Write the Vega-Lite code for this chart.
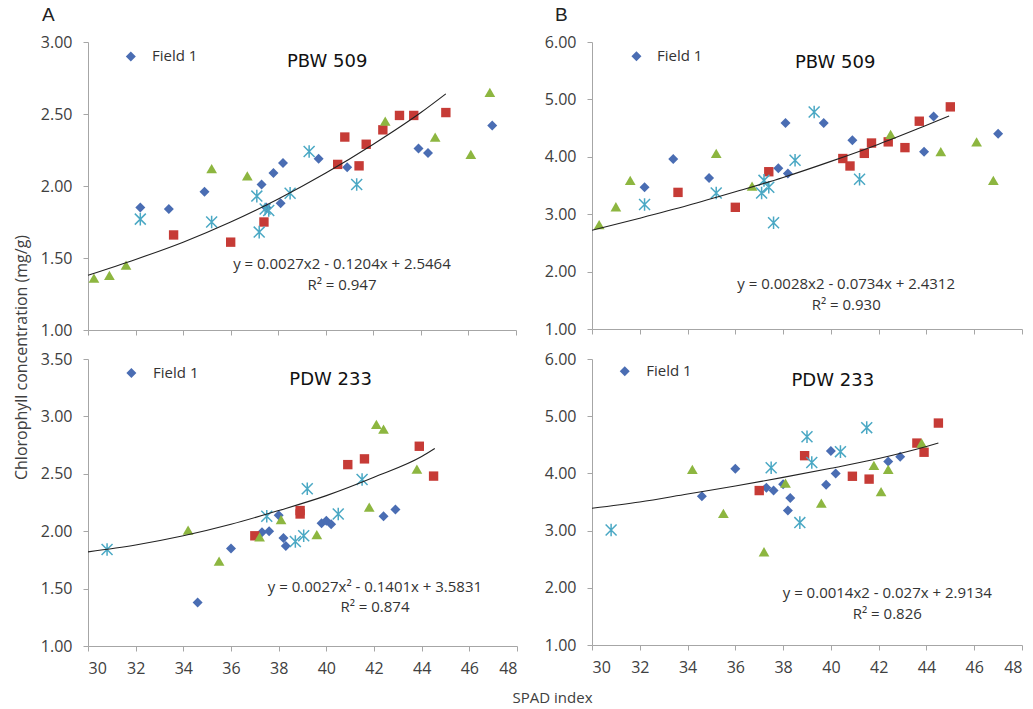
{
  "$schema": "https://vega.github.io/schema/vega-lite/v6.json",
  "background": "white",
  "padding": {"left": 13, "top": 6, "right": 3, "bottom": 4},
  "datasets": {
    "pts": [
      {"p": "A1", "s": "Field 1", "x": 32.2, "y": 1.85},
      {"p": "A1", "s": "Field 1", "x": 33.4, "y": 1.84},
      {"p": "A1", "s": "Field 1", "x": 34.9, "y": 1.96},
      {"p": "A1", "s": "Field 1", "x": 37.3, "y": 2.01},
      {"p": "A1", "s": "Field 1", "x": 37.5, "y": 1.85},
      {"p": "A1", "s": "Field 1", "x": 37.8, "y": 2.09},
      {"p": "A1", "s": "Field 1", "x": 38.2, "y": 2.16},
      {"p": "A1", "s": "Field 1", "x": 38.1, "y": 1.88},
      {"p": "A1", "s": "Field 1", "x": 39.7, "y": 2.19},
      {"p": "A1", "s": "Field 1", "x": 40.9, "y": 2.13},
      {"p": "A1", "s": "Field 1", "x": 43.9, "y": 2.26},
      {"p": "A1", "s": "Field 1", "x": 44.3, "y": 2.23},
      {"p": "A1", "s": "Field 1", "x": 47.0, "y": 2.42},
      {"p": "A1", "s": "Field 2", "x": 33.6, "y": 1.66},
      {"p": "A1", "s": "Field 2", "x": 36.0, "y": 1.61},
      {"p": "A1", "s": "Field 2", "x": 37.4, "y": 1.75},
      {"p": "A1", "s": "Field 2", "x": 40.5, "y": 2.15},
      {"p": "A1", "s": "Field 2", "x": 40.8, "y": 2.34},
      {"p": "A1", "s": "Field 2", "x": 41.4, "y": 2.14},
      {"p": "A1", "s": "Field 2", "x": 41.7, "y": 2.29},
      {"p": "A1", "s": "Field 2", "x": 42.4, "y": 2.39},
      {"p": "A1", "s": "Field 2", "x": 43.1, "y": 2.49},
      {"p": "A1", "s": "Field 2", "x": 43.7, "y": 2.49},
      {"p": "A1", "s": "Field 2", "x": 45.05, "y": 2.51},
      {"p": "A1", "s": "Field 3", "x": 30.25, "y": 1.36},
      {"p": "A1", "s": "Field 3", "x": 30.9, "y": 1.38},
      {"p": "A1", "s": "Field 3", "x": 31.6, "y": 1.45},
      {"p": "A1", "s": "Field 3", "x": 35.2, "y": 2.12},
      {"p": "A1", "s": "Field 3", "x": 36.7, "y": 2.07},
      {"p": "A1", "s": "Field 3", "x": 42.5, "y": 2.45},
      {"p": "A1", "s": "Field 3", "x": 44.6, "y": 2.34},
      {"p": "A1", "s": "Field 3", "x": 46.1, "y": 2.22},
      {"p": "A1", "s": "Field 3", "x": 46.9, "y": 2.65},
      {"p": "A1", "s": "Field 4", "x": 32.2, "y": 1.77},
      {"p": "A1", "s": "Field 4", "x": 35.2, "y": 1.75},
      {"p": "A1", "s": "Field 4", "x": 37.1, "y": 1.93},
      {"p": "A1", "s": "Field 4", "x": 37.2, "y": 1.68},
      {"p": "A1", "s": "Field 4", "x": 37.45, "y": 1.84},
      {"p": "A1", "s": "Field 4", "x": 37.6, "y": 1.83},
      {"p": "A1", "s": "Field 4", "x": 38.5, "y": 1.95},
      {"p": "A1", "s": "Field 4", "x": 39.3, "y": 2.24},
      {"p": "A1", "s": "Field 4", "x": 41.3, "y": 2.01},

      {"p": "B1", "s": "Field 1", "x": 32.2, "y": 3.47},
      {"p": "B1", "s": "Field 1", "x": 33.4, "y": 3.96},
      {"p": "B1", "s": "Field 1", "x": 34.9, "y": 3.63},
      {"p": "B1", "s": "Field 1", "x": 37.8, "y": 3.80},
      {"p": "B1", "s": "Field 1", "x": 38.2, "y": 3.71},
      {"p": "B1", "s": "Field 1", "x": 38.1, "y": 4.59},
      {"p": "B1", "s": "Field 1", "x": 39.7, "y": 4.59},
      {"p": "B1", "s": "Field 1", "x": 40.9, "y": 4.29},
      {"p": "B1", "s": "Field 1", "x": 43.9, "y": 4.09},
      {"p": "B1", "s": "Field 1", "x": 44.3, "y": 4.70},
      {"p": "B1", "s": "Field 1", "x": 47.0, "y": 4.40},
      {"p": "B1", "s": "Field 2", "x": 33.6, "y": 3.38},
      {"p": "B1", "s": "Field 2", "x": 36.0, "y": 3.12},
      {"p": "B1", "s": "Field 2", "x": 37.4, "y": 3.74},
      {"p": "B1", "s": "Field 2", "x": 40.5, "y": 3.97},
      {"p": "B1", "s": "Field 2", "x": 40.8, "y": 3.84},
      {"p": "B1", "s": "Field 2", "x": 41.4, "y": 4.06},
      {"p": "B1", "s": "Field 2", "x": 41.7, "y": 4.24},
      {"p": "B1", "s": "Field 2", "x": 42.4, "y": 4.26},
      {"p": "B1", "s": "Field 2", "x": 43.1, "y": 4.16},
      {"p": "B1", "s": "Field 2", "x": 43.7, "y": 4.62},
      {"p": "B1", "s": "Field 2", "x": 45.0, "y": 4.87},
      {"p": "B1", "s": "Field 3", "x": 30.3, "y": 2.82},
      {"p": "B1", "s": "Field 3", "x": 31.0, "y": 3.13},
      {"p": "B1", "s": "Field 3", "x": 31.6, "y": 3.59},
      {"p": "B1", "s": "Field 3", "x": 35.2, "y": 4.06},
      {"p": "B1", "s": "Field 3", "x": 36.7, "y": 3.49},
      {"p": "B1", "s": "Field 3", "x": 42.5, "y": 4.39},
      {"p": "B1", "s": "Field 3", "x": 44.6, "y": 4.09},
      {"p": "B1", "s": "Field 3", "x": 46.1, "y": 4.26},
      {"p": "B1", "s": "Field 3", "x": 46.8, "y": 3.59},
      {"p": "B1", "s": "Field 4", "x": 32.2, "y": 3.17},
      {"p": "B1", "s": "Field 4", "x": 35.2, "y": 3.37},
      {"p": "B1", "s": "Field 4", "x": 37.1, "y": 3.37},
      {"p": "B1", "s": "Field 4", "x": 37.2, "y": 3.59},
      {"p": "B1", "s": "Field 4", "x": 37.4, "y": 3.47},
      {"p": "B1", "s": "Field 4", "x": 37.6, "y": 2.85},
      {"p": "B1", "s": "Field 4", "x": 38.5, "y": 3.94},
      {"p": "B1", "s": "Field 4", "x": 39.3, "y": 4.78},
      {"p": "B1", "s": "Field 4", "x": 41.2, "y": 3.61},

      {"p": "A2", "s": "Field 1", "x": 34.6, "y": 1.38},
      {"p": "A2", "s": "Field 1", "x": 36.0, "y": 1.85},
      {"p": "A2", "s": "Field 1", "x": 37.3, "y": 1.99},
      {"p": "A2", "s": "Field 1", "x": 37.6, "y": 2.00},
      {"p": "A2", "s": "Field 1", "x": 38.0, "y": 2.14},
      {"p": "A2", "s": "Field 1", "x": 38.2, "y": 1.94},
      {"p": "A2", "s": "Field 1", "x": 38.3, "y": 1.87},
      {"p": "A2", "s": "Field 1", "x": 39.8, "y": 2.07},
      {"p": "A2", "s": "Field 1", "x": 40.0, "y": 2.09},
      {"p": "A2", "s": "Field 1", "x": 40.2, "y": 2.06},
      {"p": "A2", "s": "Field 1", "x": 42.4, "y": 2.13},
      {"p": "A2", "s": "Field 1", "x": 42.9, "y": 2.19},
      {"p": "A2", "s": "Field 2", "x": 37.0, "y": 1.96},
      {"p": "A2", "s": "Field 2", "x": 38.9, "y": 2.15},
      {"p": "A2", "s": "Field 2", "x": 38.9, "y": 2.18},
      {"p": "A2", "s": "Field 2", "x": 40.9, "y": 2.58},
      {"p": "A2", "s": "Field 2", "x": 41.6, "y": 2.63},
      {"p": "A2", "s": "Field 2", "x": 43.9, "y": 2.74},
      {"p": "A2", "s": "Field 2", "x": 44.5, "y": 2.48},
      {"p": "A2", "s": "Field 3", "x": 34.2, "y": 2.01},
      {"p": "A2", "s": "Field 3", "x": 35.5, "y": 1.74},
      {"p": "A2", "s": "Field 3", "x": 37.2, "y": 1.95},
      {"p": "A2", "s": "Field 3", "x": 38.1, "y": 2.10},
      {"p": "A2", "s": "Field 3", "x": 39.6, "y": 1.97},
      {"p": "A2", "s": "Field 3", "x": 41.8, "y": 2.21},
      {"p": "A2", "s": "Field 3", "x": 42.1, "y": 2.93},
      {"p": "A2", "s": "Field 3", "x": 42.4, "y": 2.89},
      {"p": "A2", "s": "Field 3", "x": 43.8, "y": 2.54},
      {"p": "A2", "s": "Field 4", "x": 30.8, "y": 1.84},
      {"p": "A2", "s": "Field 4", "x": 37.5, "y": 2.13},
      {"p": "A2", "s": "Field 4", "x": 38.7, "y": 1.91},
      {"p": "A2", "s": "Field 4", "x": 39.05, "y": 1.96},
      {"p": "A2", "s": "Field 4", "x": 39.2, "y": 2.37},
      {"p": "A2", "s": "Field 4", "x": 40.5, "y": 2.15},
      {"p": "A2", "s": "Field 4", "x": 41.5, "y": 2.45},

      {"p": "B2", "s": "Field 1", "x": 34.6, "y": 3.60},
      {"p": "B2", "s": "Field 1", "x": 36.0, "y": 4.08},
      {"p": "B2", "s": "Field 1", "x": 37.3, "y": 3.75},
      {"p": "B2", "s": "Field 1", "x": 37.6, "y": 3.70},
      {"p": "B2", "s": "Field 1", "x": 38.0, "y": 3.81},
      {"p": "B2", "s": "Field 1", "x": 38.3, "y": 3.57},
      {"p": "B2", "s": "Field 1", "x": 38.2, "y": 3.35},
      {"p": "B2", "s": "Field 1", "x": 39.8, "y": 3.80},
      {"p": "B2", "s": "Field 1", "x": 40.0, "y": 4.39},
      {"p": "B2", "s": "Field 1", "x": 40.2, "y": 4.00},
      {"p": "B2", "s": "Field 1", "x": 42.4, "y": 4.21},
      {"p": "B2", "s": "Field 1", "x": 42.9, "y": 4.29},
      {"p": "B2", "s": "Field 2", "x": 37.0, "y": 3.70},
      {"p": "B2", "s": "Field 2", "x": 38.9, "y": 4.31},
      {"p": "B2", "s": "Field 2", "x": 40.9, "y": 3.95},
      {"p": "B2", "s": "Field 2", "x": 41.6, "y": 3.90},
      {"p": "B2", "s": "Field 2", "x": 43.6, "y": 4.53},
      {"p": "B2", "s": "Field 2", "x": 43.9, "y": 4.37},
      {"p": "B2", "s": "Field 2", "x": 44.5, "y": 4.88},
      {"p": "B2", "s": "Field 3", "x": 34.2, "y": 4.07},
      {"p": "B2", "s": "Field 3", "x": 35.5, "y": 3.30},
      {"p": "B2", "s": "Field 3", "x": 37.2, "y": 2.63},
      {"p": "B2", "s": "Field 3", "x": 38.1, "y": 3.83},
      {"p": "B2", "s": "Field 3", "x": 39.6, "y": 3.48},
      {"p": "B2", "s": "Field 3", "x": 41.8, "y": 4.14},
      {"p": "B2", "s": "Field 3", "x": 42.1, "y": 3.68},
      {"p": "B2", "s": "Field 3", "x": 42.4, "y": 4.07},
      {"p": "B2", "s": "Field 3", "x": 43.8, "y": 4.53},
      {"p": "B2", "s": "Field 4", "x": 30.8, "y": 3.01},
      {"p": "B2", "s": "Field 4", "x": 37.5, "y": 4.10},
      {"p": "B2", "s": "Field 4", "x": 38.7, "y": 3.14},
      {"p": "B2", "s": "Field 4", "x": 39.0, "y": 4.64},
      {"p": "B2", "s": "Field 4", "x": 39.2, "y": 4.19},
      {"p": "B2", "s": "Field 4", "x": 40.4, "y": 4.38},
      {"p": "B2", "s": "Field 4", "x": 41.5, "y": 4.80}
    ],
    "fit": [
      {"p": "A1", "x": 30, "y": 1.38}, {"p": "A1", "x": 32, "y": 1.49}, {"p": "A1", "x": 34, "y": 1.61},
      {"p": "A1", "x": 36, "y": 1.75}, {"p": "A1", "x": 38, "y": 1.91}, {"p": "A1", "x": 40, "y": 2.09},
      {"p": "A1", "x": 42, "y": 2.29}, {"p": "A1", "x": 44, "y": 2.51}, {"p": "A1", "x": 45.05, "y": 2.64},
      {"p": "B1", "x": 30, "y": 2.72}, {"p": "B1", "x": 32, "y": 2.93}, {"p": "B1", "x": 34, "y": 3.15},
      {"p": "B1", "x": 36, "y": 3.39}, {"p": "B1", "x": 38, "y": 3.64}, {"p": "B1", "x": 40, "y": 3.92},
      {"p": "B1", "x": 42, "y": 4.22}, {"p": "B1", "x": 44, "y": 4.55}, {"p": "B1", "x": 44.95, "y": 4.71},
      {"p": "A2", "x": 30, "y": 1.82}, {"p": "A2", "x": 32, "y": 1.88}, {"p": "A2", "x": 34, "y": 1.96},
      {"p": "A2", "x": 36, "y": 2.06}, {"p": "A2", "x": 38, "y": 2.18}, {"p": "A2", "x": 40, "y": 2.31},
      {"p": "A2", "x": 42, "y": 2.47}, {"p": "A2", "x": 44, "y": 2.65}, {"p": "A2", "x": 44.55, "y": 2.72},
      {"p": "B2", "x": 30, "y": 3.39}, {"p": "B2", "x": 32, "y": 3.50}, {"p": "B2", "x": 34, "y": 3.64},
      {"p": "B2", "x": 36, "y": 3.78}, {"p": "B2", "x": 38, "y": 3.93}, {"p": "B2", "x": 40, "y": 4.09},
      {"p": "B2", "x": 42, "y": 4.26}, {"p": "B2", "x": 44, "y": 4.47}, {"p": "B2", "x": 44.5, "y": 4.53}
    ]
  },
  "columns": 2,
  "spacing": {"row": 29, "column": 75},
  "bounds": "flush",
  "concat": [
        {
          "width": 428, "height": 288,
          "title": {"text": "A", "anchor": "start", "frame": "group", "dx": -46, "offset": -6, "baseline": "alphabetic"},
          "layer": [
            {
              "data": {"name": "pts"},
              "transform": [{"filter": "datum.p === 'A1' && datum.s === 'Field 1'"}],
              "mark": {"type": "point", "filled": true, "opacity": 1, "shape": "diamond", "size": 100, "color": "#4A6DB3"},
              "encoding": {
                "x": {"field": "x", "type": "quantitative", "scale": {"domain": [30, 48], "nice": false, "zero": false},
                      "axis": {"values": [30, 32, 34, 36, 38, 40, 42, 44, 46, 48], "labels": false, "title": null}},
                "y": {"field": "y", "type": "quantitative", "scale": {"domain": [1, 3], "nice": false, "zero": false},
                      "axis": {"values": [1, 1.5, 2, 2.5, 3], "format": ".2f", "title": "Chlorophyll concentration (mg/g)",
                               "titleX": -67, "titleY": 315, "titleAngle": 270, "titleAlign": "center", "titleBaseline": "middle", "titleFontSize": 16}}
              }
            },
            {
              "data": {"name": "pts"},
              "transform": [{"filter": "datum.p === 'A1' && datum.s === 'Field 2'"}],
              "mark": {"type": "point", "filled": true, "opacity": 1, "shape": "square", "size": 88, "color": "#C63B36"},
              "encoding": {"x": {"field": "x", "type": "quantitative"}, "y": {"field": "y", "type": "quantitative"}}
            },
            {
              "data": {"name": "pts"},
              "transform": [{"filter": "datum.p === 'A1' && datum.s === 'Field 3'"}],
              "mark": {"type": "point", "filled": true, "opacity": 1, "shape": "triangle-up", "size": 115, "color": "#8DB640"},
              "encoding": {"x": {"field": "x", "type": "quantitative"}, "y": {"field": "y", "type": "quantitative"}}
            },
            {
              "data": {"name": "pts"},
              "transform": [{"filter": "datum.p === 'A1' && datum.s === 'Field 4'"}],
              "mark": {"type": "point", "filled": false, "shape": "M-1,-1L1,1M-1,1L1,-1M0,-1.15L0,1.15", "size": 120, "strokeWidth": 1.5, "color": "#4AA8C4", "opacity": 1},
              "encoding": {"x": {"field": "x", "type": "quantitative"}, "y": {"field": "y", "type": "quantitative"}}
            },
            {
              "data": {"name": "fit"},
              "transform": [{"filter": "datum.p === 'A1'"}],
              "mark": {"type": "line", "color": "#222", "strokeWidth": 1.1, "interpolate": "monotone"},
              "encoding": {"x": {"field": "x", "type": "quantitative"}, "y": {"field": "y", "type": "quantitative"}}
            },
            {
              "data": {"values": [{}]},
              "mark": {"type": "text", "font": "DejaVu Sans", "fontSize": 18, "color": "#111", "align": "center", "baseline": "middle"},
              "encoding": {"x": {"datum": 40.06, "type": "quantitative"}, "y": {"datum": 2.86, "type": "quantitative"}, "text": {"value": "PBW 509"}}
            },
            {
              "data": {"values": [{}]},
              "mark": {"type": "text", "font": "Open Sans", "fontSize": 15, "color": "#333", "align": "center", "baseline": "middle"},
              "encoding": {"x": {"datum": 40.68, "type": "quantitative"}, "y": {"datum": 1.458, "type": "quantitative"}, "text": {"value": "y = 0.0027x2 - 0.1204x + 2.5464"}}
            },
            {
              "data": {"values": [{}]},
              "mark": {"type": "text", "font": "Open Sans", "fontSize": 15, "color": "#333", "align": "center", "baseline": "middle"},
              "encoding": {"x": {"datum": 40.68, "type": "quantitative"}, "y": {"datum": 1.3125, "type": "quantitative"}, "text": {"value": "R² = 0.947"}}
            },
            {
              "data": {"values": [{}]},
              "mark": {"type": "point", "filled": true, "shape": "diamond", "size": 100, "color": "#4A6DB3", "opacity": 1},
              "encoding": {"x": {"datum": 31.8, "type": "quantitative"}, "y": {"datum": 2.9, "type": "quantitative"}}
            },
            {
              "data": {"values": [{}]},
              "mark": {"type": "text", "font": "Open Sans", "fontSize": 15, "color": "#333", "align": "left", "baseline": "middle"},
              "encoding": {"x": {"datum": 32.69, "type": "quantitative"}, "y": {"datum": 2.9, "type": "quantitative"}, "text": {"value": "Field 1"}}
            }
          ]
        },
        {
          "width": 430, "height": 287,
          "title": {"text": "B", "anchor": "start", "frame": "group", "dx": -37, "offset": -6, "baseline": "alphabetic"},
          "layer": [
            {
              "data": {"name": "pts"},
              "transform": [{"filter": "datum.p === 'B1' && datum.s === 'Field 1'"}],
              "mark": {"type": "point", "filled": true, "opacity": 1, "shape": "diamond", "size": 100, "color": "#4A6DB3"},
              "encoding": {
                "x": {"field": "x", "type": "quantitative", "scale": {"domain": [30, 48], "nice": false, "zero": false},
                      "axis": {"values": [30, 32, 34, 36, 38, 40, 42, 44, 46, 48], "labels": false, "title": null}},
                "y": {"field": "y", "type": "quantitative", "scale": {"domain": [1, 6], "nice": false, "zero": false},
                      "axis": {"values": [1, 2, 3, 4, 5, 6], "format": ".2f", "title": null}}
              }
            },
            {
              "data": {"name": "pts"},
              "transform": [{"filter": "datum.p === 'B1' && datum.s === 'Field 2'"}],
              "mark": {"type": "point", "filled": true, "opacity": 1, "shape": "square", "size": 88, "color": "#C63B36"},
              "encoding": {"x": {"field": "x", "type": "quantitative"}, "y": {"field": "y", "type": "quantitative"}}
            },
            {
              "data": {"name": "pts"},
              "transform": [{"filter": "datum.p === 'B1' && datum.s === 'Field 3'"}],
              "mark": {"type": "point", "filled": true, "opacity": 1, "shape": "triangle-up", "size": 115, "color": "#8DB640"},
              "encoding": {"x": {"field": "x", "type": "quantitative"}, "y": {"field": "y", "type": "quantitative"}}
            },
            {
              "data": {"name": "pts"},
              "transform": [{"filter": "datum.p === 'B1' && datum.s === 'Field 4'"}],
              "mark": {"type": "point", "filled": false, "shape": "M-1,-1L1,1M-1,1L1,-1M0,-1.15L0,1.15", "size": 120, "strokeWidth": 1.5, "color": "#4AA8C4", "opacity": 1},
              "encoding": {"x": {"field": "x", "type": "quantitative"}, "y": {"field": "y", "type": "quantitative"}}
            },
            {
              "data": {"name": "fit"},
              "transform": [{"filter": "datum.p === 'B1'"}],
              "mark": {"type": "line", "color": "#222", "strokeWidth": 1.1, "interpolate": "monotone"},
              "encoding": {"x": {"field": "x", "type": "quantitative"}, "y": {"field": "y", "type": "quantitative"}}
            },
            {
              "data": {"values": [{}]},
              "mark": {"type": "text", "font": "DejaVu Sans", "fontSize": 18, "color": "#111", "align": "center", "baseline": "middle"},
              "encoding": {"x": {"datum": 40.18, "type": "quantitative"}, "y": {"datum": 5.64, "type": "quantitative"}, "text": {"value": "PBW 509"}}
            },
            {
              "data": {"values": [{}]},
              "mark": {"type": "text", "font": "Open Sans", "fontSize": 15, "color": "#333", "align": "center", "baseline": "middle"},
              "encoding": {"x": {"datum": 40.64, "type": "quantitative"}, "y": {"datum": 1.79, "type": "quantitative"}, "text": {"value": "y = 0.0028x2 - 0.0734x + 2.4312"}}
            },
            {
              "data": {"values": [{}]},
              "mark": {"type": "text", "font": "Open Sans", "fontSize": 15, "color": "#333", "align": "center", "baseline": "middle"},
              "encoding": {"x": {"datum": 40.64, "type": "quantitative"}, "y": {"datum": 1.42, "type": "quantitative"}, "text": {"value": "R² = 0.930"}}
            },
            {
              "data": {"values": [{}]},
              "mark": {"type": "point", "filled": true, "shape": "diamond", "size": 100, "color": "#4A6DB3", "opacity": 1},
              "encoding": {"x": {"datum": 31.86, "type": "quantitative"}, "y": {"datum": 5.75, "type": "quantitative"}}
            },
            {
              "data": {"values": [{}]},
              "mark": {"type": "text", "font": "Open Sans", "fontSize": 15, "color": "#333", "align": "left", "baseline": "middle"},
              "encoding": {"x": {"datum": 32.72, "type": "quantitative"}, "y": {"datum": 5.75, "type": "quantitative"}, "text": {"value": "Field 1"}}
            }
          ]
        },
        {
          "width": 429, "height": 287,
          "layer": [
            {
              "data": {"name": "pts"},
              "transform": [{"filter": "datum.p === 'A2' && datum.s === 'Field 1'"}],
              "mark": {"type": "point", "filled": true, "opacity": 1, "shape": "diamond", "size": 100, "color": "#4A6DB3"},
              "encoding": {
                "x": {"field": "x", "type": "quantitative", "scale": {"domain": [30, 48], "nice": false, "zero": false},
                      "axis": {"values": [30, 32, 34, 36, 38, 40, 42, 44, 46, 48], "format": "d", "title": "SPAD index",
                               "titleX": 464, "titleY": 56, "titleAlign": "center", "titleBaseline": "alphabetic"}},
                "y": {"field": "y", "type": "quantitative", "scale": {"domain": [1, 3.5], "nice": false, "zero": false},
                      "axis": {"values": [1, 1.5, 2, 2.5, 3, 3.5], "format": ".2f", "title": null}}
              }
            },
            {
              "data": {"name": "pts"},
              "transform": [{"filter": "datum.p === 'A2' && datum.s === 'Field 2'"}],
              "mark": {"type": "point", "filled": true, "opacity": 1, "shape": "square", "size": 88, "color": "#C63B36"},
              "encoding": {"x": {"field": "x", "type": "quantitative"}, "y": {"field": "y", "type": "quantitative"}}
            },
            {
              "data": {"name": "pts"},
              "transform": [{"filter": "datum.p === 'A2' && datum.s === 'Field 3'"}],
              "mark": {"type": "point", "filled": true, "opacity": 1, "shape": "triangle-up", "size": 115, "color": "#8DB640"},
              "encoding": {"x": {"field": "x", "type": "quantitative"}, "y": {"field": "y", "type": "quantitative"}}
            },
            {
              "data": {"name": "pts"},
              "transform": [{"filter": "datum.p === 'A2' && datum.s === 'Field 4'"}],
              "mark": {"type": "point", "filled": false, "shape": "M-1,-1L1,1M-1,1L1,-1M0,-1.15L0,1.15", "size": 120, "strokeWidth": 1.5, "color": "#4AA8C4", "opacity": 1},
              "encoding": {"x": {"field": "x", "type": "quantitative"}, "y": {"field": "y", "type": "quantitative"}}
            },
            {
              "data": {"name": "fit"},
              "transform": [{"filter": "datum.p === 'A2'"}],
              "mark": {"type": "line", "color": "#222", "strokeWidth": 1.1, "interpolate": "monotone"},
              "encoding": {"x": {"field": "x", "type": "quantitative"}, "y": {"field": "y", "type": "quantitative"}}
            },
            {
              "data": {"values": [{}]},
              "mark": {"type": "text", "font": "DejaVu Sans", "fontSize": 18, "color": "#111", "align": "center", "baseline": "middle"},
              "encoding": {"x": {"datum": 40.18, "type": "quantitative"}, "y": {"datum": 3.32, "type": "quantitative"}, "text": {"value": "PDW 233"}}
            },
            {
              "data": {"values": [{}]},
              "mark": {"type": "text", "font": "Open Sans", "fontSize": 15, "color": "#333", "align": "center", "baseline": "middle"},
              "encoding": {"x": {"datum": 42.04, "type": "quantitative"}, "y": {"datum": 1.518, "type": "quantitative"}, "text": {"value": "y = 0.0027x² - 0.1401x + 3.5831"}}
            },
            {
              "data": {"values": [{}]},
              "mark": {"type": "text", "font": "Open Sans", "fontSize": 15, "color": "#333", "align": "center", "baseline": "middle"},
              "encoding": {"x": {"datum": 42.04, "type": "quantitative"}, "y": {"datum": 1.338, "type": "quantitative"}, "text": {"value": "R² = 0.874"}}
            },
            {
              "data": {"values": [{}]},
              "mark": {"type": "point", "filled": true, "shape": "diamond", "size": 100, "color": "#4A6DB3", "opacity": 1},
              "encoding": {"x": {"datum": 31.82, "type": "quantitative"}, "y": {"datum": 3.378, "type": "quantitative"}}
            },
            {
              "data": {"values": [{}]},
              "mark": {"type": "text", "font": "Open Sans", "fontSize": 15, "color": "#333", "align": "left", "baseline": "middle"},
              "encoding": {"x": {"datum": 32.73, "type": "quantitative"}, "y": {"datum": 3.378, "type": "quantitative"}, "text": {"value": "Field 1"}}
            }
          ]
        },
        {
          "width": 430, "height": 286,
          "layer": [
            {
              "data": {"name": "pts"},
              "transform": [{"filter": "datum.p === 'B2' && datum.s === 'Field 1'"}],
              "mark": {"type": "point", "filled": true, "opacity": 1, "shape": "diamond", "size": 100, "color": "#4A6DB3"},
              "encoding": {
                "x": {"field": "x", "type": "quantitative", "scale": {"domain": [30, 48], "nice": false, "zero": false},
                      "axis": {"values": [30, 32, 34, 36, 38, 40, 42, 44, 46, 48], "format": "d", "title": null}},
                "y": {"field": "y", "type": "quantitative", "scale": {"domain": [1, 6], "nice": false, "zero": false},
                      "axis": {"values": [1, 2, 3, 4, 5, 6], "format": ".2f", "title": null}}
              }
            },
            {
              "data": {"name": "pts"},
              "transform": [{"filter": "datum.p === 'B2' && datum.s === 'Field 2'"}],
              "mark": {"type": "point", "filled": true, "opacity": 1, "shape": "square", "size": 88, "color": "#C63B36"},
              "encoding": {"x": {"field": "x", "type": "quantitative"}, "y": {"field": "y", "type": "quantitative"}}
            },
            {
              "data": {"name": "pts"},
              "transform": [{"filter": "datum.p === 'B2' && datum.s === 'Field 3'"}],
              "mark": {"type": "point", "filled": true, "opacity": 1, "shape": "triangle-up", "size": 115, "color": "#8DB640"},
              "encoding": {"x": {"field": "x", "type": "quantitative"}, "y": {"field": "y", "type": "quantitative"}}
            },
            {
              "data": {"name": "pts"},
              "transform": [{"filter": "datum.p === 'B2' && datum.s === 'Field 4'"}],
              "mark": {"type": "point", "filled": false, "shape": "M-1,-1L1,1M-1,1L1,-1M0,-1.15L0,1.15", "size": 120, "strokeWidth": 1.5, "color": "#4AA8C4", "opacity": 1},
              "encoding": {"x": {"field": "x", "type": "quantitative"}, "y": {"field": "y", "type": "quantitative"}}
            },
            {
              "data": {"name": "fit"},
              "transform": [{"filter": "datum.p === 'B2'"}],
              "mark": {"type": "line", "color": "#222", "strokeWidth": 1.1, "interpolate": "monotone"},
              "encoding": {"x": {"field": "x", "type": "quantitative"}, "y": {"field": "y", "type": "quantitative"}}
            },
            {
              "data": {"values": [{}]},
              "mark": {"type": "text", "font": "DejaVu Sans", "fontSize": 18, "color": "#111", "align": "center", "baseline": "middle"},
              "encoding": {"x": {"datum": 40.08, "type": "quantitative"}, "y": {"datum": 5.62, "type": "quantitative"}, "text": {"value": "PDW 233"}}
            },
            {
              "data": {"values": [{}]},
              "mark": {"type": "text", "font": "Open Sans", "fontSize": 15, "color": "#333", "align": "center", "baseline": "middle"},
              "encoding": {"x": {"datum": 42.36, "type": "quantitative"}, "y": {"datum": 1.91, "type": "quantitative"}, "text": {"value": "y = 0.0014x2 - 0.027x + 2.9134"}}
            },
            {
              "data": {"values": [{}]},
              "mark": {"type": "text", "font": "Open Sans", "fontSize": 15, "color": "#333", "align": "center", "baseline": "middle"},
              "encoding": {"x": {"datum": 42.36, "type": "quantitative"}, "y": {"datum": 1.54, "type": "quantitative"}, "text": {"value": "R² = 0.826"}}
            },
            {
              "data": {"values": [{}]},
              "mark": {"type": "point", "filled": true, "shape": "diamond", "size": 100, "color": "#4A6DB3", "opacity": 1},
              "encoding": {"x": {"datum": 31.37, "type": "quantitative"}, "y": {"datum": 5.785, "type": "quantitative"}}
            },
            {
              "data": {"values": [{}]},
              "mark": {"type": "text", "font": "Open Sans", "fontSize": 15, "color": "#333", "align": "left", "baseline": "middle"},
              "encoding": {"x": {"datum": 32.27, "type": "quantitative"}, "y": {"datum": 5.785, "type": "quantitative"}, "text": {"value": "Field 1"}}
            }
          ]
        }
  ],
  "config": {
    "view": {"stroke": null},
    "axis": {
      "grid": false,
      "domainColor": "#a6a6a6",
      "tickColor": "#a6a6a6",
      "tickSize": 5,
      "labelFont": "Open Sans",
      "labelFontSize": 16,
      "labelColor": "#404040",
      "titleFont": "Open Sans",
      "titleFontSize": 15,
      "titleFontWeight": "normal",
      "titleColor": "#404040"
    },
    "axisY": {"labelPadding": 11},
    "axisX": {"labelPadding": 9},
    "title": {"font": "Liberation Sans", "fontSize": 19, "fontWeight": "normal", "color": "#222"}
  }
}
